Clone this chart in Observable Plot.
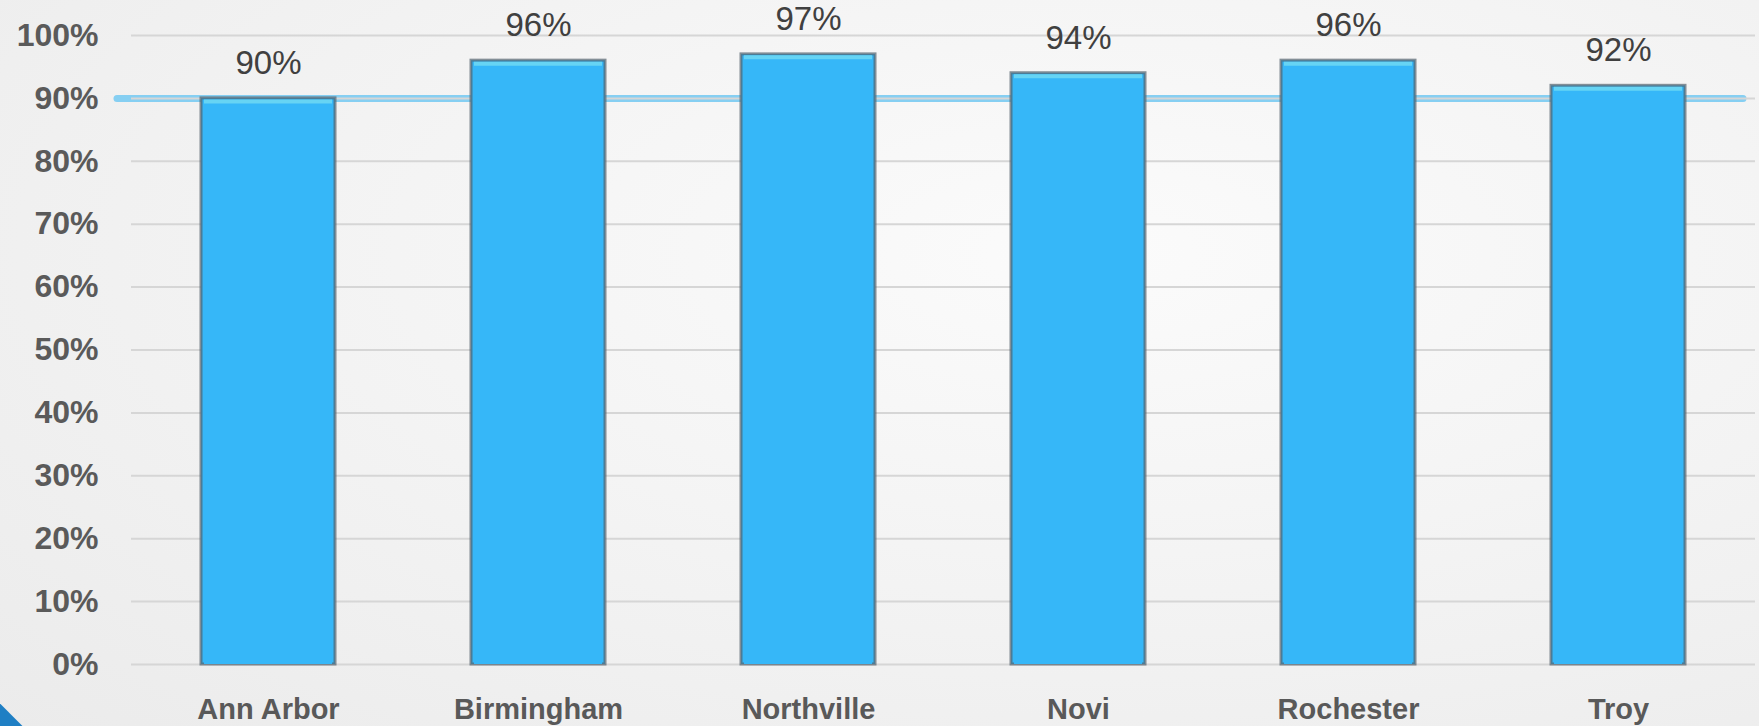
<!DOCTYPE html>
<html>
<head>
<meta charset="utf-8">
<script src="https://cdn.jsdelivr.net/npm/d3@7"></script>
<script src="https://cdn.jsdelivr.net/npm/@observablehq/plot@0.6"></script>
<style>
  html, body { margin: 0; padding: 0; }
  body {
    width: 1759px; height: 726px; overflow: hidden; position: relative;
    background: radial-gradient(ellipse at 62% 35%, #fbfbfb 0%, #f4f4f4 45%, #ebebeb 100%);
    font-family: "Liberation Sans", Arial, sans-serif;
  }
  #corner {
    position: absolute; left: -40px; bottom: -40px; width: 60px; height: 60px;
    background: #1f7fc4; transform: rotate(45deg);
  }
  #chart { position: absolute; left: 0; top: 0; }
  #chart svg { background: transparent !important; }
</style>
</head>
<body>
<div id="corner"></div>
<div id="chart"></div>
<script>
const categories = ["Ann Arbor", "Birmingham", "Northville", "Novi", "Rochester", "Troy"];
const values = [90, 96, 97, 94, 96, 92];
const target = [90];
const yTicks = [0, 10, 20, 30, 40, 50, 60, 70, 80, 90, 100];

const data = categories.map((c, i) => ({city: c, value: values[i]}));

const chart = Plot.plot({
  width: 1759,
  height: 726,
  marginLeft: 131,
  marginRight: 4,
  marginTop: 35,
  marginBottom: 62,
  style: {background: "transparent", overflow: "visible"},
  x: {domain: categories, paddingInner: 0.505, paddingOuter: 0.2525, label: null},
  y: {domain: [0, 100], label: null},
  marks: [
    Plot.ruleY(target, {stroke: "#86cff2", strokeWidth: 7, strokeLinecap: "round", insetLeft: -14, insetRight: 12}),
    Plot.ruleY(yTicks, {stroke: "#d6d6d6", strokeWidth: 2}),
    Plot.barY(data, {x: "city", y: "value", fill: "#36b7f8", stroke: "#52636e", strokeWidth: 3, strokeOpacity: 0.7}),
    Plot.barY(data, {x: "city", y: "value", fill: "#36b7f8", insetLeft: 3, insetRight: 3, insetTop: 2}),
    Plot.tickY(data, {x: "city", y: "value", stroke: "#66d4f4", strokeWidth: 4, dy: 3, insetLeft: 3, insetRight: 3}),
    Plot.text(data, {x: "city", y: "value", text: d => d.value + "%", dy: -35, fill: "#404040", fontSize: 33, fontFamily: "Liberation Sans, Arial, sans-serif"}),
    Plot.axisY({ticks: yTicks, tickFormat: d => d + "%", tickSize: 0, tickPadding: 33, fontSize: 32, fontWeight: "bold", fill: "#5a5a5a", fontFamily: "Liberation Sans, Arial, sans-serif"}),
    Plot.axisX({tickSize: 0, tickPadding: 34, fontSize: 29, fontWeight: "bold", fill: "#595959", fontFamily: "Liberation Sans, Arial, sans-serif"})
  ]
});
document.getElementById("chart").appendChild(chart);
</script>
</body>
</html>
